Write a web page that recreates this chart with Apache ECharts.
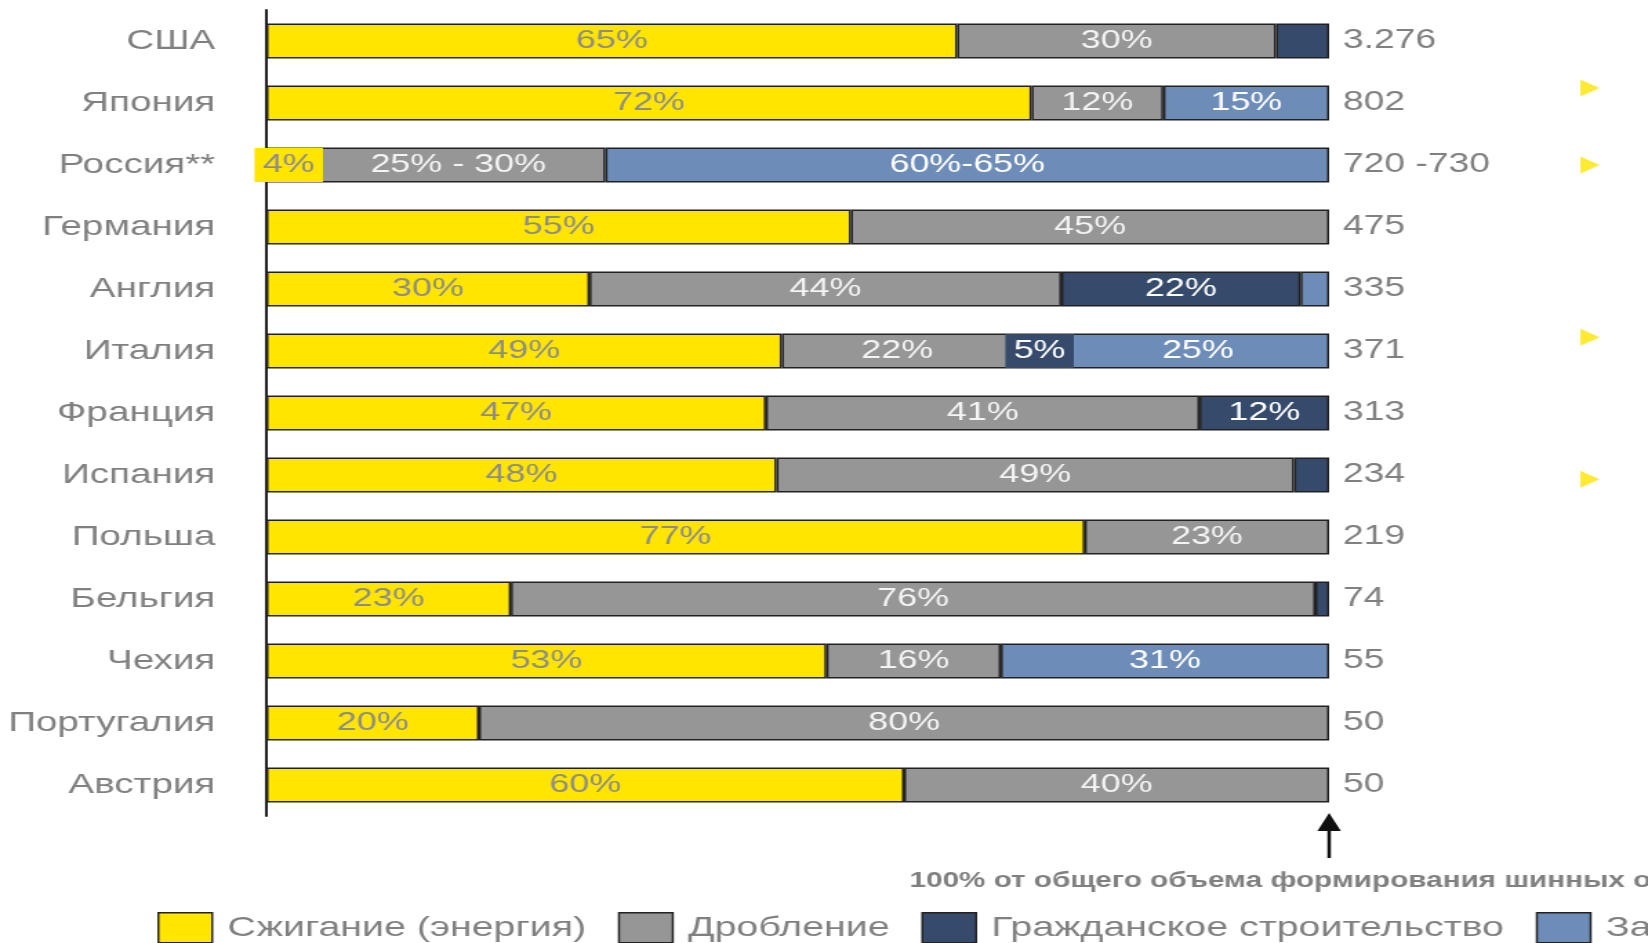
<!DOCTYPE html>
<html>
<head>
<meta charset="utf-8">
<script src="https://cdn.jsdelivr.net/npm/echarts@6/dist/echarts.min.js"></script>
<style>
  html, body { margin: 0; padding: 0; background: #fff; overflow: hidden; }
  /* the source slide is stretched sideways, so the chart is drawn narrow and widened */
  #chart { width: 1194px; height: 943px; transform: scaleX(1.3802); transform-origin: 0 0; }
</style>
</head>
<body>
<div id="chart"></div>
<script>
const categories = ['США', 'Япония', 'Россия**', 'Германия', 'Англия', 'Италия', 'Франция', 'Испания', 'Польша', 'Бельгия', 'Чехия', 'Португалия', 'Австрия'];
const volumes = ['3.276', '802', '720 -730', '475', '335', '371', '313', '234', '219', '74', '55', '50', '50'];

const burning = [65, 72, 4.2, 55, 30.4, 48.5, 47, 48, 77, 23, 52.7, 20, 60];
const crushing = [30, 12.4, 27.7, 45, 44.4, 21.7, 40.8, 48.7, 23, 75.7, 16.4, 80, 40];
const construction = [5, null, null, null, 22.5, 5.1, 12.2, 3.3, null, 1.3, null, null, null];
const landfill = [null, 15.6, 68.1, null, 2.7, 24.7, null, null, null, null, 30.9, null, null];

const burningLabels = ['65%', '72%', '4%', '55%', '30%', '49%', '47%', '48%', '77%', '23%', '53%', '20%', '60%'];
const crushingLabels = ['30%', '12%', '25% - 30%', '45%', '44%', '22%', '41%', '49%', '23%', '76%', '16%', '80%', '40%'];
const constructionLabels = ['', '', '', '', '22%', '5%', '12%', '', '', '', '', '', ''];
const landfillLabels = ['', '15%', '60%-65%', '', '', '25%', '', '', '', '', '31%', '', ''];

const seriesNames = ['Сжигание (энергия)', 'Дробление', 'Гражданское строительство', 'Захоронение'];
const colors = ['#FFE500', '#969696', '#364B6B', '#6D8CB8'];

// yellow markers on the right: row index (fractional where they sit off-centre)
const markerRows = [0.76, 2, 4.78, 7.07];

const FONT = '"Liberation Sans", Arial, sans-serif';

const chart = echarts.init(document.getElementById('chart'));

const stacks = [
  { values: burning, labels: burningLabels, text: '#8c8c8c', boxed: [2] },
  { values: crushing, labels: crushingLabels, text: '#f4f4f4', boxed: [] },
  { values: construction, labels: constructionLabels, text: '#ffffff', boxed: [5] },
  { values: landfill, labels: landfillLabels, text: '#ffffff', boxed: [] },
];

const series = stacks.map((s, k) => {
  const data = s.values.map((v, i) => {
    const label = { show: !!s.labels[i], formatter: s.labels[i] || '', color: s.text };
    // these labels are wider than their bar piece and sit on a box of the same colour
    if (s.boxed.indexOf(i) >= 0) {
      label.backgroundColor = colors[k];
      label.padding = [4, 6];
    }
    return { value: v, label };
  });
  return {
    name: seriesNames[k],
    type: 'bar',
    stack: 'total',
    barWidth: 35,
    itemStyle: { color: colors[k], borderColor: '#222', borderWidth: 1.5 },
    label: { show: true, position: 'inside', fontFamily: FONT, fontSize: 26, lineHeight: 26 },
    data,
  };
});

series.push({
  type: 'scatter',
  xAxisIndex: 1,
  yAxisIndex: 2,
  symbol: 'triangle',
  symbolSize: [17, 14],
  symbolRotate: -90,
  itemStyle: { color: '#FFE500' },
  silent: true,
  data: markerRows.map(r => [0.5, r]),
});

chart.setOption({
  animation: false,
  grid: [
    { left: 193, right: 231, top: 10, height: 806 },
    { left: 1140, width: 24, top: 10, height: 806 },
  ],
  legend: {
    data: seriesNames,
    left: 114,
    top: 912,
    width: 3000,
    padding: 0,
    itemWidth: 39,
    itemHeight: 30,
    itemGap: 23,
    icon: 'rect',
    itemStyle: { borderColor: '#222', borderWidth: 1.5 },
    textStyle: { fontFamily: FONT, fontSize: 28.5, color: '#808080', padding: [0, 0, 0, 6] },
  },
  xAxis: [
    { type: 'value', min: 0, max: 100, gridIndex: 0, show: false },
    { type: 'value', min: 0, max: 1, gridIndex: 1, show: false },
  ],
  yAxis: [
    {
      type: 'category',
      data: categories,
      inverse: true,
      axisLine: { lineStyle: { color: '#222', width: 2 } },
      axisTick: { show: false },
      axisLabel: { margin: 37, fontFamily: FONT, fontSize: 28, color: '#808080' },
    },
    {
      type: 'category',
      data: volumes,
      inverse: true,
      position: 'right',
      axisLine: { show: false },
      axisTick: { show: false },
      axisLabel: { margin: 10, fontFamily: FONT, fontSize: 27, color: '#808080' },
    },
    { type: 'value', min: -0.5, max: 12.5, inverse: true, gridIndex: 1, show: false },
  ],
  graphic: [
    { type: 'line', shape: { x1: 963, y1: 828, x2: 963, y2: 858 }, style: { stroke: '#111', lineWidth: 2.5 } },
    { type: 'polygon', shape: { points: [[954.5, 831], [971.5, 831], [963, 813]] }, style: { fill: '#111' } },
    {
      type: 'text',
      left: 659,
      top: 870,
      style: {
        text: '100% от общего объема формирования шинных отходов',
        font: 'bold 21.5px ' + FONT,
        fill: '#808080',
      },
    },
  ],
  series,
});

window.addEventListener('resize', () => chart.resize());
</script>
</body>
</html>
